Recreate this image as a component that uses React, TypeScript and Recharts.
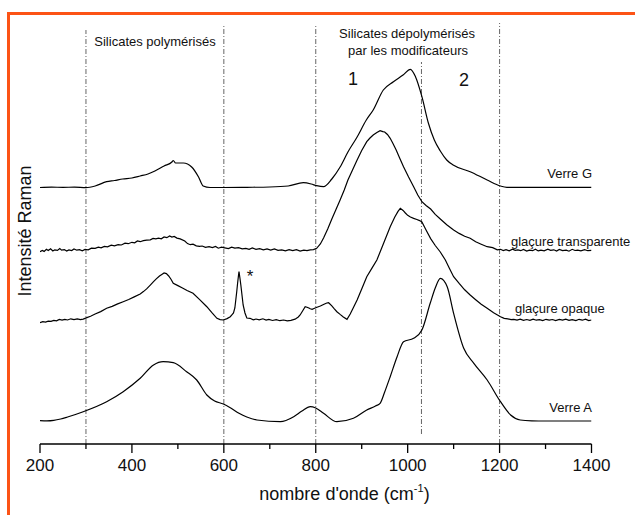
import React from 'react';
import { LineChart, Line, XAxis, YAxis, ReferenceLine } from 'recharts';

// wavenumber (cm-1), intensity (arbitrary units, spectra stacked with offsets)
const verreG: [number, number][] = [
  [200, 256.5], [225, 256.9], [250, 256.6], [275, 256.9], [300, 256.4], [320, 258], [345, 262.3], [362, 263.5],
  [380, 265], [400, 266], [418, 268], [435, 270], [450, 273], [470, 278], [487, 282], [490, 283.5], [495, 281],
  [512, 281], [530, 277], [545, 267], [555, 258], [570, 256.5], [600, 256.5], [650, 256.7], [700, 257],
  [740, 258], [773, 261.3], [790, 260], [802, 258.3], [817, 257.3], [835, 265], [853, 277], [870, 292],
  [890, 307], [910, 324], [925, 334], [947, 354], [969, 362.3], [990, 369], [1006, 374.7], [1017, 367.3],
  [1031, 347.3], [1045, 321], [1058, 304], [1071, 293], [1085, 284], [1099, 279], [1136, 272.3],
  [1173, 264], [1202, 258], [1216, 256.7], [1300, 256.7], [1400, 256.7],
];

const glacureTransparente: [number, number][] = [
  [200, 192.3], [205, 193.6], [209, 192.6], [214, 194.8], [218, 193.5], [223, 195.3], [228, 193.1],
  [232, 194.2], [238, 193.6], [243, 195.4], [247, 193.9], [253, 194.4], [258, 192.9], [263, 194.1],
  [269, 193.5], [274, 195.1], [280, 193.8], [286, 194.3], [292, 193.2], [298, 194.6], [305, 194.1],
  [312, 195.8], [320, 195.7], [327, 196.8], [333, 196.1], [340, 197.6], [347, 197.2], [355, 198.9],
  [362, 198.1], [370, 199.4], [377, 199], [385, 200.8], [392, 200.3], [400, 201.7], [406, 201.2],
  [412, 203.1], [418, 202.3], [425, 203.4], [432, 203.9], [440, 204.2], [446, 205.6], [452, 205.1],
  [458, 205.9], [464, 205.2], [470, 207.1], [476, 206.3], [482, 208.1], [487, 206.9], [492, 207.6],
  [498, 205.9], [505, 205.1], [515, 203], [521, 200.4], [527, 199.3], [533, 199.8], [540, 198.1],
  [547, 197.6], [553, 198], [560, 196.6], [568, 197.3], [575, 196.4], [582, 197.6], [588, 195.8],
  [595, 196.8], [602, 196.2], [610, 195.4], [617, 196.9], [624, 195.9], [632, 196.3], [640, 195.1],
  [648, 195.6], [655, 194.7], [662, 196], [670, 194.6], [678, 195.4], [686, 194.2], [694, 195.1],
  [702, 193.9], [710, 195], [718, 193.7], [726, 194.1], [734, 193.2], [742, 194.4], [750, 193.4],
  [758, 194.3], [766, 193], [774, 193.9], [781, 193.3], [788, 194.2], [795, 194.4], [802, 195.7],
  [810, 200], [817, 206], [826, 215], [835, 225], [844, 234.5], [853, 244], [862, 254], [870, 264],
  [880, 274], [890, 284], [900, 293.5], [911, 302.3], [918, 306], [925, 309], [933, 311.5],
  [940, 313.3], [946, 312.4], [950, 312], [956, 309.5], [962, 305.7], [968, 300.5], [975, 294],
  [983, 285.5], [991, 277.3], [1002, 267], [1013, 257.3], [1022, 249], [1031, 242.3], [1040, 238.5],
  [1050, 235], [1060, 229.6], [1071, 225], [1085, 219.2], [1100, 214], [1112, 210.6], [1124, 207.7],
  [1136, 205.7], [1148, 202.2], [1160, 199.8], [1173, 197.3], [1185, 196.4], [1195, 194.2],
  [1202, 194.7], [1208, 193.4], [1214, 194.4], [1221, 193.1], [1228, 194.8], [1234, 193.6],
  [1240, 194.1], [1246, 193.3], [1252, 194.6], [1259, 192.9], [1265, 193.8], [1272, 193.3],
  [1278, 194.7], [1284, 193.1], [1290, 193.9], [1297, 193.2], [1305, 194.8], [1311, 193.6],
  [1318, 194.2], [1324, 193], [1330, 194.6], [1337, 193.4], [1345, 193.9], [1351, 192.8],
  [1358, 194.7], [1364, 193.5], [1370, 193.9], [1377, 193.1], [1385, 194.4], [1392, 193.3], [1400, 193.7],
];

const glacureOpaque: [number, number][] = [
  [200, 121.3], [206, 122.4], [212, 121.9], [218, 122.8], [224, 122.6], [230, 123.6], [236, 123.1],
  [242, 124.5], [248, 123.8], [254, 124.6], [260, 124], [267, 125.2], [274, 124.4], [281, 125.1],
  [288, 124.3], [294, 124.9], [302, 126.4], [310, 127.8], [320, 130], [332, 132.4], [345, 135.7],
  [357, 137.6], [369, 140.1], [381, 142.3], [393, 144.5], [405, 147.1], [418, 150], [425, 152.4],
  [432, 155.1], [440, 158.9], [447, 162.3], [453, 165.1], [460, 168], [465, 169.6], [470, 171],
  [475, 170.4], [480, 168], [485, 164.8], [490, 160.7], [500, 158.4], [510, 156], [520, 153.5],
  [533, 150.7], [548, 144.1], [563, 137.3], [574, 131.3], [585, 125.7], [592, 124.4], [599, 124],
  [607, 125.4], [614, 127.3], [618, 129.4], [621, 131], [624, 136], [626, 144], [628, 152], [630, 161],
  [632, 169], [633, 172.3], [635, 166], [637, 159], [640, 147], [642, 139], [646, 131], [650, 126],
  [657, 125.7], [664, 124.2], [670, 125], [677, 124.1], [685, 125.2], [692, 123.9], [698, 124.6],
  [706, 123.5], [714, 124.4], [722, 123.3], [730, 124], [738, 123.1], [746, 123.6], [755, 124.8],
  [762, 127], [766, 129], [772, 133.5], [777, 137.3], [781, 136.8], [785, 136], [788, 135.2],
  [792, 134.7], [800, 136.3], [810, 138], [818, 139.8], [824, 141], [828, 141.3], [835, 138.2],
  [840, 135.4], [846, 132.3], [853, 129.6], [860, 127.1], [868, 124.7], [875, 130], [882, 136.5],
  [890, 144], [900, 155], [911, 167.3], [922, 175.6], [933, 184], [947, 200], [962, 217.3],
  [972, 227], [979, 232.6], [984, 235.7], [990, 233.6], [995, 231], [1000, 228.7], [1006, 227],
  [1013, 225.6], [1020, 224.5], [1026, 223.4], [1031, 222], [1040, 214], [1050, 205.4], [1060, 198.5],
  [1071, 192], [1082, 184], [1091, 175.5], [1100, 167.3], [1112, 160.6], [1124, 154.2], [1136, 149],
  [1148, 144.3], [1160, 139.8], [1173, 135.7], [1187, 131.2], [1202, 127.3], [1210, 125.6],
  [1218, 125.1], [1225, 124.3], [1231, 124.7], [1238, 123.9], [1245, 124.8], [1252, 123.7],
  [1259, 124.5], [1266, 123.6], [1273, 124.9], [1280, 123.8], [1287, 124.4], [1294, 123.5],
  [1301, 124.7], [1308, 123.9], [1315, 124.5], [1322, 123.4], [1330, 124.6], [1337, 123.9],
  [1344, 124.8], [1351, 123.6], [1358, 124.4], [1366, 123.5], [1373, 124.7], [1380, 123.8],
  [1387, 124.9], [1394, 123.4], [1400, 124],
];

const verreA: [number, number][] = [
  [200, 23.3], [215, 23.1], [230, 23.6], [245, 25], [260, 27], [294, 32.3], [345, 42.3], [381, 52.3],
  [418, 65.7], [447, 79], [468, 82.3], [490, 81.3], [519, 72.3], [541, 64], [563, 49], [580, 43],
  [599, 40], [615, 36], [633, 30.7], [650, 27], [672, 24], [723, 22.3], [752, 27.3], [770, 33],
  [788, 37.3], [800, 36], [817, 30.7], [846, 22.3], [882, 25.7], [911, 34], [930, 38], [940, 40.7],
  [950, 52], [962, 67.3], [977, 87.3], [991, 102.3], [1013, 105.7], [1031, 114], [1049, 140.7],
  [1060, 156], [1071, 165.7], [1086, 157.3], [1100, 130.7], [1122, 95.7], [1144, 80.7], [1173, 64],
  [1202, 42.3], [1224, 29], [1245, 24], [1270, 23.2], [1300, 23], [1400, 23],
];

const xTicks = [200, 300, 400, 500, 600, 700, 800, 900, 1000, 1100, 1200, 1300, 1400];
const majorTicks = [200, 400, 600, 800, 1000, 1200, 1400];

// region separators: [wavenumber, bottom, top]
const separators: [number, number, number][] = [
  [300, 0, 414], [600, 0, 418], [800, 0, 419], [1030, 10, 382], [1200, 0, 421],
];

const toPoints = (arr: [number, number][]) => arr.map(([x, y]) => ({ x, y }));

const font = '"Liberation Sans", Arial, sans-serif';

const XTick = (props: any) => {
  const { x, y, payload } = props;
  const major = majorTicks.includes(payload.value);
  return (
    <g>
      <line x1={x} x2={x} y1={y} y2={y + (major ? 9 : 5)} stroke="#000" strokeWidth={1.3} />
      {major && (
        <text x={x} y={y + 27} textAnchor="middle" fontSize={17} fill="#111" fontFamily={font}>
          {payload.value}
        </text>
      )}
    </g>
  );
};

export default function App() {
  const series = [
    { data: verreG, type: 'monotone' },
    { data: glacureTransparente, type: 'linear' },
    { data: glacureOpaque, type: 'linear' },
    { data: verreA, type: 'monotone' },
  ];
  return (
    <div style={{ position: 'absolute', left: 0, top: 0, width: 635, height: 515, background: '#fff' }}>
      <div style={{ position: 'absolute', left: 7, top: 12, width: 628, height: 2.5, background: '#FC5316' }} />
      <div style={{ position: 'absolute', left: 7, top: 12, width: 2.5, height: 503, background: '#FC5316' }} />
      <LineChart width={635} height={515} margin={{ top: 37, right: 43.5, bottom: 0, left: 40 }}>
        <XAxis
          type="number"
          dataKey="x"
          domain={[200, 1400]}
          ticks={xTicks}
          interval={0}
          height={71}
          tickSize={0}
          tickMargin={0}
          tickLine={false}
          tick={<XTick />}
          axisLine={{ stroke: '#000', strokeWidth: 1.5 }}
          allowDataOverflow
        />
        <YAxis
          type="number"
          domain={[0, 407]}
          width={0}
          tick={false}
          tickLine={false}
          axisLine={{ stroke: '#000', strokeWidth: 1.5 }}
          allowDataOverflow
        />
        {separators.map(([wn, y0, y1]) => (
          <ReferenceLine
            key={wn}
            segment={[{ x: wn, y: y0 }, { x: wn, y: y1 }]}
            stroke="#666"
            strokeWidth={1}
            strokeDasharray="5 2 1 2"
            ifOverflow="visible"
          />
        ))}
        {series.map((s, i) => (
          <Line
            key={i}
            data={toPoints(s.data)}
            dataKey="y"
            type={s.type as any}
            stroke="#000"
            strokeWidth={1.2}
            dot={false}
            isAnimationActive={false}
          />
        ))}
      </LineChart>
      <svg
        width={635}
        height={515}
        style={{ position: 'absolute', left: 0, top: 0, pointerEvents: 'none' }}
        fontFamily={font}
        fill="#111"
      >
        <text x={155} y={41} fontSize={13} textAnchor="middle" dominantBaseline="central">Silicates polymérisés</text>
        <text x={407} y={33} fontSize={13} textAnchor="middle" dominantBaseline="central">Silicates dépolymérisés</text>
        <text x={408} y={50.5} fontSize={13} textAnchor="middle" dominantBaseline="central">par les modificateurs</text>
        <text x={353} y={79} fontSize={18} textAnchor="middle" dominantBaseline="central">1</text>
        <text x={464} y={80} fontSize={18} textAnchor="middle" dominantBaseline="central">2</text>
        <text x={250} y={276} fontSize={17} textAnchor="middle" dominantBaseline="central">*</text>
        <text x={592} y={173} fontSize={13} textAnchor="end" dominantBaseline="central">Verre G</text>
        <text x={511} y={241} fontSize={13} dominantBaseline="central">glaçure transparente</text>
        <text x={515} y={308} fontSize={13} dominantBaseline="central">glaçure opaque</text>
        <text x={592} y={407} fontSize={13} textAnchor="end" dominantBaseline="central">Verre A</text>
        <text
          x={24.5}
          y={231}
          fontSize={18}
          textAnchor="middle"
          dominantBaseline="central"
          transform="rotate(-90 24.5 231)"
        >
          Intensité Raman
        </text>
        <text x={344.5} y={500} fontSize={18} textAnchor="middle">
          nombre d'onde (cm<tspan fontSize={11} dy={-8}>-1</tspan><tspan dy={8}>)</tspan>
        </text>
      </svg>
    </div>
  );
}
